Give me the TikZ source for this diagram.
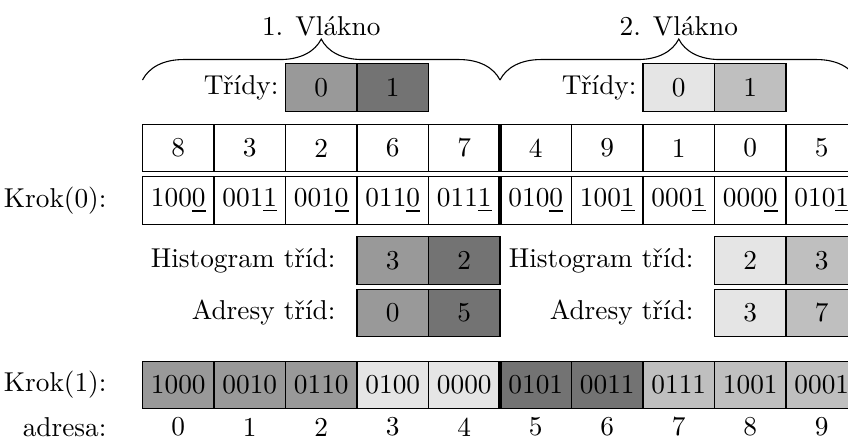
\documentclass[tikz,border=0pt]{standalone}
\usetikzlibrary{decorations.pathreplacing}
\definecolor{ca}{gray}{0.6}
\definecolor{cb}{gray}{0.45}
\definecolor{cc}{gray}{0.9}
\definecolor{cd}{gray}{0.75}
\begin{document}
\begin{tikzpicture}[x=0.3663pt,y=-0.3663pt,
  cell/.style={draw=black, line width=0.4pt, minimum width=26.19pt, minimum height=17.5pt, inner sep=0pt, outer sep=0pt},
  lbl/.style={anchor=east, inner sep=0pt},
  sepline/.style={line width=1.2pt},
  bracedeco/.style={decorate, decoration={brace, amplitude=15pt}, line width=0.4pt}]
\useasboundingbox (0,0) rectangle (848,439);
\clip (0,0) rectangle (848,439);
% braces
\coordinate (b1s) at (142.5,80);
\coordinate (b1e) at (500,80);
\coordinate (b2s) at (500,80);
\coordinate (b2e) at (857.5,80);
\draw[bracedeco] (b1s) -- (b1e);
\draw[bracedeco] (b2s) -- (b2e);
\node (v1) at (321.25,26) {1. Vlákno};
\node (v2) at (678.75,26) {2. Vlákno};
% classes
\node[cell, fill=ca] (t10) at (321.25,87.5) {0};
\node[cell, fill=cb] (t11) at (392.75,87.5) {1};
\node[cell, fill=cc] (t20) at (678.75,87.5) {0};
\node[cell, fill=cd] (t21) at (750.25,87.5) {1};
\node[lbl] (lt1) at (279,87.5) {Třídy:};
\node[lbl] (lt2) at (637,87.5) {Třídy:};
% numbers
\foreach \v [count=\i from 0] in {8,3,2,6,7,4,9,1,0,5}
  \node[cell] (n\i) at ({178.25+71.5*\i},148) {\v};
% Krok(0)
\foreach \a/\b [count=\i from 0] in {100/0,001/1,001/0,011/0,011/1,010/0,100/1,000/1,000/0,010/1}
  \node[cell] (k\i) at ({178.25+71.5*\i},200.5) {\a\underline{\b}};
\node[lbl] (lk0) at (107,200.5) {Krok(0):};
% histogram and addresses
\node[cell, fill=ca] (h10) at (392.75,260.5) {3};
\node[cell, fill=cb] (h11) at (464.25,260.5) {2};
\node[cell, fill=cc] (h20) at (750.25,260.5) {2};
\node[cell, fill=cd] (h21) at (821.75,260.5) {3};
\node[cell, fill=ca] (d10) at (392.75,313) {0};
\node[cell, fill=cb] (d11) at (464.25,313) {5};
\node[cell, fill=cc] (d20) at (750.25,313) {3};
\node[cell, fill=cd] (d21) at (821.75,313) {7};
\node[lbl] (lh1) at (336,260.5) {Histogram tříd:};
\node[lbl] (ld1) at (336,313) {Adresy tříd:};
\node[lbl] (lh2) at (694,260.5) {Histogram tříd:};
\node[lbl] (ld2) at (694,313) {Adresy tříd:};
% Krok(1)
\foreach \v/\c [count=\i from 0] in {1000/ca,0010/ca,0110/ca,0100/cc,0000/cc,0101/cb,0011/cb,0111/cd,1001/cd,0001/cd}
  \node[cell, fill=\c] (m\i) at ({178.25+71.5*\i},385) {\v};
\node[lbl] (lk1) at (107,385) {Krok(1):};
% addresses
\foreach \i in {0,...,9}
  \node[inner sep=0pt] (a\i) at ({178.25+71.5*\i},427) {\i};
\node[lbl] (la) at (107,427) {adresa:};
% thread separators
\draw[sepline] (n4.north east) -- (n4.south east);
\draw[sepline] (k4.north east) -- (k4.south east);
\draw[sepline] (m4.north east) -- (m4.south east);
\end{tikzpicture}
\end{document}
